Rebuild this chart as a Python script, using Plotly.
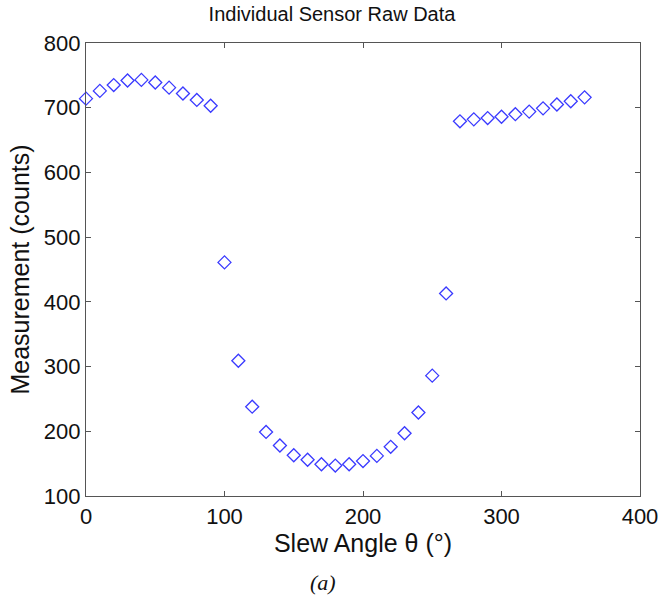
import plotly.graph_objects as go

angles = [0, 10, 20, 30, 40, 50, 60, 70, 80, 90, 100, 110, 120, 130, 140, 150, 160, 170, 180,
          190, 200, 210, 220, 230, 240, 250, 260, 270, 280, 290, 300, 310, 320, 330, 340, 350, 360]
counts = [714, 726, 735, 742, 743, 739, 731, 722, 712, 703, 461, 309, 238, 199, 178, 163, 156, 149, 147,
          149, 154, 162, 176, 197, 229, 286, 413, 679, 682, 684, 686, 690, 694, 699, 705, 710, 716]

FONT = "Liberation Sans, Arial"

fig = go.Figure()
fig.add_trace(go.Scatter(
    x=angles, y=counts, mode="markers",
    marker=dict(symbol="diamond-open", size=10, color="#3a3aff", line=dict(width=1.3, color="#3a3aff")),
    showlegend=False, cliponaxis=False,
))

axis_common = dict(
    showgrid=False, zeroline=False, showline=True, linecolor="#555555", linewidth=1.2,
    mirror="ticks", ticks="inside", ticklen=5, tickcolor="#555555", automargin=False,
    tickfont=dict(family=FONT, size=22, color="#111111"),
)

fig.update_layout(
    width=660, height=602,
    margin=dict(l=86, r=20, t=43, b=106),
    paper_bgcolor="white", plot_bgcolor="white",
    title=dict(text="Individual Sensor Raw Data", x=0.503, xanchor="center", y=0.976, yanchor="middle",
               font=dict(family=FONT, size=20, color="#111111")),
    xaxis=dict(range=[0, 400], tickvals=[0, 100, 200, 300, 400], **axis_common,
               title=dict(text="Slew Angle θ (°)", standoff=0,
                          font=dict(family=FONT, size=25, color="#111111"))),
    yaxis=dict(range=[100, 800], tickvals=[100, 200, 300, 400, 500, 600, 700, 800], **axis_common,
               title=dict(text="Measurement (counts)", standoff=7,
                          font=dict(family=FONT, size=25, color="#111111"))),
    annotations=[dict(text="<i>(a)</i>", xref="paper", yref="paper", x=0.428, y=-0.19,
                      xanchor="center", yanchor="middle", showarrow=False,
                      font=dict(family="Liberation Serif, Times New Roman", size=22, color="#111111"))],
)

fig.write_html("out.html", config={"displayModeBar": False},
               post_script="document.body.style.margin='0';document.body.style.overflow='hidden';")
